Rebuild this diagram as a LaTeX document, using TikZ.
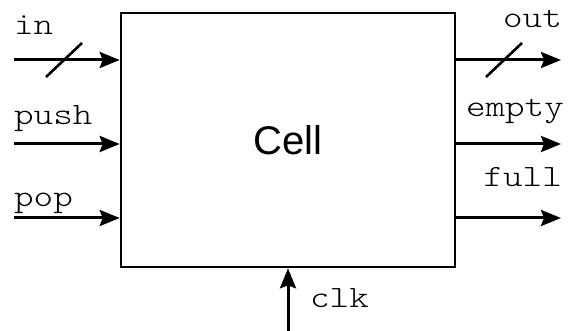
\documentclass[tikz,border=0pt]{standalone}
\usepackage{fontspec}
\setmainfont{Liberation Sans}
\newfontfamily\sigfont[FakeStretch=1.2]{Latin Modern Mono Light}
\usetikzlibrary{arrows.meta}
\begin{document}
\begin{tikzpicture}[x=1pt,y=-1pt,
  sig/.style={line width=3pt,-{Stealth[length=20pt,width=16pt,inset=3pt]}},
  bus/.style={line width=2.6pt},
  lbl/.style={inner sep=0pt,font=\sigfont\fontsize{31}{34}\selectfont},
  cellbox/.style={draw,line width=2.6pt,minimum width=334pt,minimum height=254pt,inner sep=0pt,
    font=\fontsize{40}{44}\selectfont}]
\useasboundingbox (0,0) rectangle (571,331);
\node[cellbox] (cell) at (288,140) {Cell};
% inputs
\coordinate (inS) at (14,60);
\coordinate (pushS) at (14,144);
\coordinate (popS) at (14,218);
\draw[sig] (inS) -- (cell.west |- inS);
\draw[sig] (pushS) -- (cell.west |- pushS);
\draw[sig] (popS) -- (cell.west |- popS);
\coordinate (inA) at (46,77);
\coordinate (inB) at (82,43);
\draw[bus] (inA) -- (inB);
% outputs
\coordinate (outE) at (561,60);
\coordinate (emptyE) at (561,144);
\coordinate (fullE) at (561,218);
\draw[sig] (cell.east |- outE) -- (outE);
\draw[sig] (cell.east |- emptyE) -- (emptyE);
\draw[sig] (cell.east |- fullE) -- (fullE);
\coordinate (outA) at (486,77);
\coordinate (outB) at (522,43);
\draw[bus] (outA) -- (outB);
% clock
\coordinate (clkS) at (288,331);
\draw[sig] (clkS) -- (cell.south -| clkS);
% labels
\node[lbl,anchor=base west] (lin) at (14,35) {in};
\node[lbl,anchor=base west] (lpush) at (14,125) {push};
\node[lbl,anchor=base west] (lpop) at (14,207) {pop};
\node[lbl,anchor=base east] (lout) at (562,28) {out};
\node[lbl,anchor=base east] (lempty) at (564,117) {empty};
\node[lbl,anchor=base east] (lfull) at (562,187) {full};
\node[lbl,anchor=base west] (lclk) at (310,308) {clk};
\end{tikzpicture}
\end{document}
